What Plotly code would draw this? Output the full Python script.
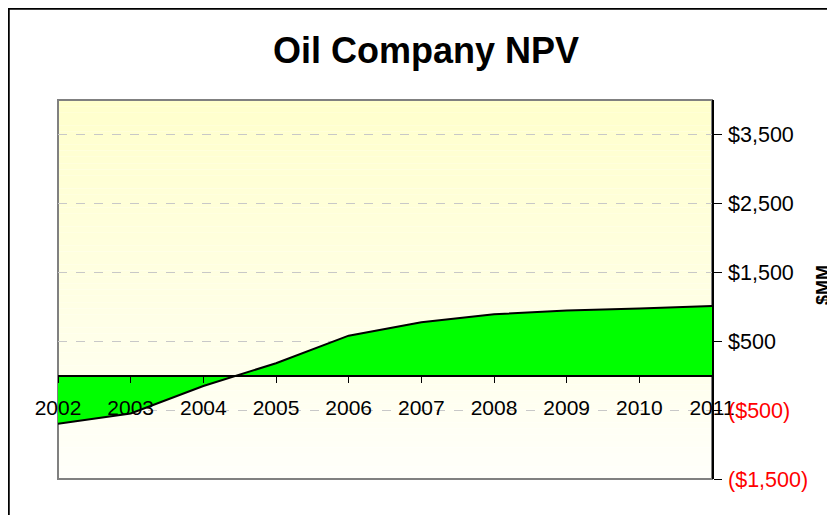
import plotly.graph_objects as go

# ---- data ----
years = [2002, 2003, 2004, 2005, 2006, 2007, 2008, 2009, 2010, 2011]
npv = [-700, -550, -150, 180, 580, 775, 890, 945, 975, 1010]
y_tickvals = [-1500, -500, 500, 1500, 2500, 3500]
y_ticktext = ['<span style="color:#FF0000">($1,500)</span>',
              '<span style="color:#FF0000">($500)</span>',
              '$500', '$1,500', '$2,500', '$3,500']
x_ticktext = [str(y) for y in years]
y_range = [-1500, 4000]

FONT = "Arial, Liberation Sans, sans-serif"
OFF = 8  # page body margin offset

# plot area in screen pixels
PL, PR, PT, PB = 58, 712, 100, 479
W, H = 835, 515
pw, ph = PR - PL, PB - PT


def px_x(sx):
    return (sx - PL) / pw


def px_y(sy):
    return (PB - sy) / ph


fig = go.Figure()
fig.add_trace(go.Scatter(
    x=years, y=npv, mode="lines", fill="tozeroy",
    fillcolor="#00FF00", line=dict(color="black", width=2),
    hoverinfo="skip", showlegend=False))

# gradient background for the plot area
shapes = []
n = 60
top = (255, 255, 204)
bot = (255, 255, 250)
for i in range(n):
    t = i / (n - 1)
    c = tuple(round(top[k] + (bot[k] - top[k]) * t) for k in range(3))
    shapes.append(dict(type="rect", xref="paper", yref="paper",
                       x0=0, x1=1, y0=1 - (i + 1) / n, y1=1 - i / n,
                       fillcolor="rgb(%d,%d,%d)" % c, line=dict(width=0),
                       layer="below"))
# plot area border
shapes.append(dict(type="rect", xref="paper", yref="paper", x0=0, x1=1, y0=0, y1=1,
                   line=dict(color="#808080", width=2), fillcolor="rgba(0,0,0,0)",
                   layer="below"))
# outer chart border
shapes.append(dict(type="rect", xref="paper", yref="paper",
                   x0=px_x(8.5), x1=px_x(860), y0=px_y(540), y1=px_y(8.5),
                   line=dict(color="black", width=2.5), fillcolor="rgba(0,0,0,0)",
                   layer="above"))

fig.update_layout(
    width=W, height=H,
    margin=dict(l=PL - OFF, r=W - (PR - OFF), t=PT - OFF, b=H - (PB - OFF)),
    paper_bgcolor="white", plot_bgcolor="rgba(0,0,0,0)",
    font=dict(family=FONT, color="black", size=20),
    title=dict(text="<b>Oil Company NPV</b>", font=dict(size=36, family=FONT),
               x=(426 - OFF) / W, xref="container", xanchor="center",
               y=1 - (50 - OFF) / H, yref="container", yanchor="middle"),
    shapes=shapes,
    xaxis=dict(range=[years[0], years[-1]], tickvals=years, ticktext=x_ticktext,
               anchor="free", position=(0 - y_range[0]) / (y_range[1] - y_range[0]),
               showline=True, linecolor="black", linewidth=2,
               ticks="outside", ticklen=6, tickcolor="black", tickwidth=1,
               ticklabelstandoff=7, showgrid=False, zeroline=False,
               tickfont=dict(size=21)),
    yaxis=dict(range=y_range, side="right", tickvals=y_tickvals, ticktext=y_ticktext,
               showline=True, linecolor="black", linewidth=1.5, mirror=False,
               ticks="outside", ticklen=8, tickcolor="black",
               ticklabelstandoff=2,
               showgrid=True, gridcolor="#C8C8C8", griddash="dash", gridwidth=1,
               zeroline=False, tickfont=dict(size=21.5)),
    annotations=[dict(text="<b>$MM</b>", xref="paper", yref="paper",
                      x=px_x(823), y=px_y(285), textangle=-90,
                      showarrow=False, font=dict(size=18, family=FONT),
                      xanchor="center", yanchor="middle")],
)

fig.write_html("out.html")
